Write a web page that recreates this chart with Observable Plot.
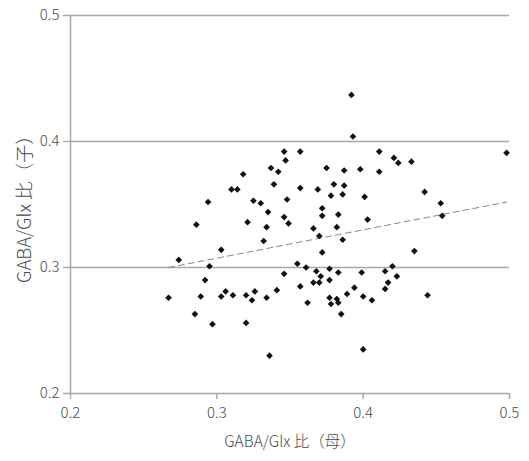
<!DOCTYPE html>
<html>
<head>
<meta charset="utf-8">
<script src="https://cdn.jsdelivr.net/npm/d3@7"></script>
<script src="https://cdn.jsdelivr.net/npm/@observablehq/plot@0.6"></script>
<style>
  html, body { margin: 0; padding: 0; background: #fff; }
  svg { display: block; }
</style>
</head>
<body>
<div id="chart"></div>
<script>
// GABA/Glx ratio: mother (x) vs child (y)
const mother = [
  0.337, 0.342, 0.318, 0.339, 0.310, 0.314, 0.294, 0.325, 0.330, 0.335,
  0.286, 0.321, 0.334, 0.332, 0.303, 0.274, 0.295, 0.292, 0.267, 0.289,
  0.303, 0.306, 0.311, 0.320, 0.326, 0.324, 0.334, 0.341, 0.285, 0.297,
  0.320, 0.336, 0.392, 0.393, 0.346, 0.357, 0.411, 0.347, 0.421, 0.424,
  0.433, 0.375, 0.387, 0.398, 0.411, 0.357, 0.369, 0.380, 0.387, 0.348,
  0.378, 0.386, 0.401, 0.372, 0.372, 0.383, 0.346, 0.349, 0.403, 0.366,
  0.382, 0.370, 0.386, 0.372, 0.435, 0.355, 0.361, 0.368, 0.377, 0.383,
  0.371, 0.346, 0.399, 0.415, 0.420, 0.423, 0.357, 0.366, 0.370, 0.377,
  0.394, 0.389, 0.400, 0.406, 0.417, 0.415, 0.362, 0.377, 0.382, 0.378,
  0.383, 0.385, 0.400, 0.498, 0.442, 0.453, 0.454, 0.444
];
const child = [
  0.379, 0.376, 0.374, 0.366, 0.362, 0.362, 0.352, 0.353, 0.351, 0.344,
  0.334, 0.336, 0.332, 0.321, 0.314, 0.306, 0.301, 0.290, 0.276, 0.277,
  0.277, 0.281, 0.278, 0.278, 0.281, 0.274, 0.276, 0.282, 0.263, 0.255,
  0.256, 0.230, 0.437, 0.404, 0.392, 0.392, 0.392, 0.385, 0.387, 0.383,
  0.384, 0.379, 0.377, 0.378, 0.376, 0.363, 0.362, 0.366, 0.365, 0.354,
  0.357, 0.358, 0.356, 0.347, 0.341, 0.342, 0.340, 0.335, 0.338, 0.331,
  0.332, 0.325, 0.322, 0.312, 0.313, 0.303, 0.300, 0.297, 0.299, 0.296,
  0.293, 0.295, 0.296, 0.297, 0.301, 0.293, 0.285, 0.288, 0.288, 0.290,
  0.284, 0.279, 0.277, 0.274, 0.288, 0.283, 0.272, 0.276, 0.275, 0.271,
  0.272, 0.263, 0.235, 0.391, 0.360, 0.351, 0.341, 0.278
];
const ticks = [0.2, 0.3, 0.4, 0.5];
const xLabel = "GABA/Glx 比（母）";
const yLabel = "GABA/Glx 比（子）";

const data = mother.map((m, i) => ({mother: m, child: child[i]}));

const font = "'Noto Sans CJK JP', 'Noto Sans', sans-serif";
const grid = "#a8a8a8";
const fmt = d => d.toFixed(1);

const chart = Plot.plot({
  width: 529,
  height: 461,
  marginLeft: 70,
  marginTop: 15,
  marginRight: 20,
  marginBottom: 68,
  style: {fontFamily: font, fontSize: "15px", fontWeight: 300, color: "#4a4a4a", background: "#fff"},
  x: {domain: [0.2, 0.5], ticks: ticks},
  y: {domain: [0.2, 0.5], ticks: ticks},
  marks: [
    Plot.ruleY(ticks, {stroke: grid, strokeWidth: 1.5}),
    Plot.ruleX([0.2], {y1: 0.2, y2: 0.5, stroke: grid, strokeWidth: 1.5}),
    Plot.axisY({ticks: ticks, tickFormat: fmt, tickSize: 7, tickPadding: 4, stroke: grid, strokeWidth: 1.5, strokeOpacity: 1,
      label: yLabel, labelAnchor: "center", labelArrow: "none", labelOffset: 53, fill: "#4a4a4a"}),
    Plot.axisX({ticks: ticks, tickFormat: fmt, tickSize: 6, tickPadding: 8, stroke: grid, strokeWidth: 1.5, strokeOpacity: 1,
      label: xLabel, labelAnchor: "center", labelArrow: "none", labelOffset: 53, fill: "#4a4a4a"}),
    Plot.linearRegressionY(data, {x: "mother", y: "child", ci: 0, stroke: "#888", strokeWidth: 1, strokeDasharray: "6,4"}),
    Plot.dot(data, {x: "mother", y: "child", symbol: "diamond2", r: 3, fill: "#111", stroke: "none"})
  ]
});
const yl = chart.querySelector('g[aria-label="y-axis label"]');
if (yl) yl.setAttribute("font-size", "18.5px");
const xl = chart.querySelector('g[aria-label="x-axis label"]');
if (xl) xl.setAttribute("font-size", "15.5px");
document.getElementById("chart").appendChild(chart);
</script>
</body>
</html>
